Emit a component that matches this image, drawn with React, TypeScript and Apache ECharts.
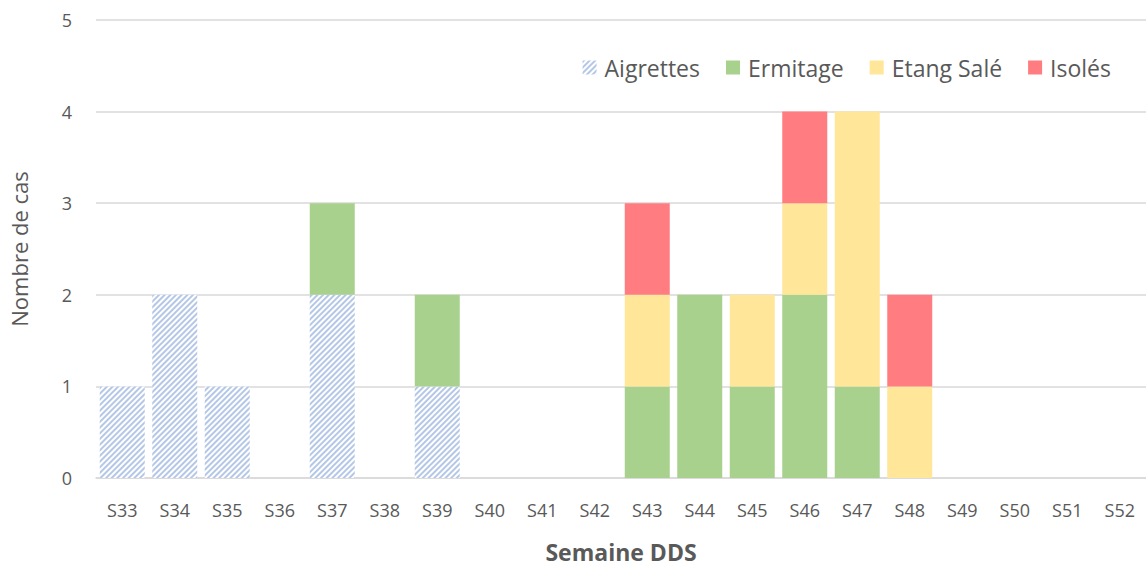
import React, { useEffect, useRef } from "react";
import * as echarts from "echarts";

const categories = ["S33","S34","S35","S36","S37","S38","S39","S40","S41","S42","S43","S44","S45","S46","S47","S48","S49","S50","S51","S52"];
const aigrettes = [1,2,1,0,2,0,1,0,0,0,0,0,0,0,0,0,0,0,0,0];
const ermitage  = [0,0,0,0,1,0,1,0,0,0,1,2,1,2,1,0,0,0,0,0];
const etangSale = [0,0,0,0,0,0,0,0,0,0,1,0,1,1,3,1,0,0,0,0];
const isoles    = [0,0,0,0,0,0,0,0,0,0,1,0,0,1,0,1,0,0,0,0];
const yTicks = [0,1,2,3,4,5];

const FONT = "Open Sans";

export default function App() {
  const ref = useRef<HTMLDivElement>(null);
  useEffect(() => {
    if (!ref.current) return;
    document.body.style.margin = "0";
    document.body.style.overflow = "hidden";
    const chart = echarts.init(ref.current, null, { renderer: "svg" });
    const z = (arr: number[]) => arr.map((v) => (v === 0 ? null : v));
    chart.setOption({
      animation: false,
      backgroundColor: "#ffffff",
      textStyle: { fontFamily: FONT },
      legend: {
        top: 51,
        right: 30,
        itemWidth: 14,
        itemHeight: 14,
        itemGap: 26,
        icon: "rect",
        textStyle: { fontSize: 23, color: "#595959", fontFamily: FONT, padding: [0, 0, 0, 3] },
        data: ["Aigrettes", "Ermitage", "Etang Salé", "Isolés"],
      },
      grid: { left: 91, top: 20, right: -9, bottom: 80, containLabel: false },
      xAxis: {
        type: "category",
        data: categories,
        axisLine: { lineStyle: { color: "#d9d9d9", width: 1.5 } },
        axisTick: { show: false },
        axisLabel: { fontSize: 18, color: "#595959", margin: 23, fontFamily: FONT },
        name: "Semaine DDS",
        nameLocation: "middle",
        nameGap: 62,
        nameTextStyle: { fontSize: 23, fontWeight: "bold", color: "#595959", fontFamily: FONT },
      },
      yAxis: {
        type: "value",
        min: 0,
        max: 5,
        interval: 1,
        axisLine: { show: false },
        axisTick: { show: false },
        splitLine: { lineStyle: { color: "#d9d9d9", width: 1.5 } },
        axisLabel: { fontSize: 18, color: "#595959", margin: 24, fontFamily: FONT,
          formatter: (v: number) => (yTicks.includes(v) ? String(v) : "") },
        name: "Nombre de cas",
        nameLocation: "middle",
        nameGap: 66,
        nameTextStyle: { fontSize: 22, color: "#595959", fontFamily: FONT },
      },
      series: [
        {
          name: "Aigrettes",
          type: "bar",
          stack: "a",
          barWidth: 45,
          data: z(aigrettes),
          itemStyle: {
            color: "#ffffff",
            decal: {
              symbol: "rect",
              color: "#b4c7e7",
              dashArrayX: [1, 0],
              dashArrayY: [2, 2],
              rotation: -Math.PI / 4,
              symbolSize: 1,
            },
          },
        },
        { name: "Ermitage", type: "bar", stack: "a", barWidth: 45, data: z(ermitage), itemStyle: { color: "#a9d18e" } },
        { name: "Etang Salé", type: "bar", stack: "a", barWidth: 45, data: z(etangSale), itemStyle: { color: "#ffe699" } },
        { name: "Isolés", type: "bar", stack: "a", barWidth: 45, data: z(isoles), itemStyle: { color: "#ff7c80" } },
      ],
    });
    return () => chart.dispose();
  }, []);
  return <div ref={ref} style={{ width: 1146, height: 568, overflow: "hidden" }} />;
}
